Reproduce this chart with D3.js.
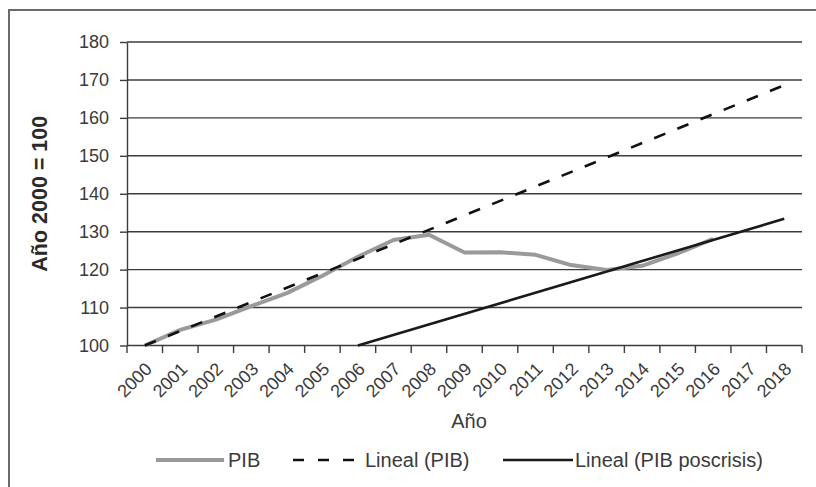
<!DOCTYPE html>
<html>
<head>
<meta charset="utf-8">
<script src="https://cdn.jsdelivr.net/npm/d3@7/dist/d3.min.js"></script>
<style>
  html, body { margin: 0; padding: 0; background: #fff; }
  svg { display: block; font-family: "Liberation Sans", Arial, sans-serif; }
</style>
</head>
<body>
<svg id="chart" width="816" height="487"></svg>
<script>
// Years on the category axis
const years = [2000, 2001, 2002, 2003, 2004, 2005, 2006, 2007, 2008, 2009,
               2010, 2011, 2012, 2013, 2014, 2015, 2016, 2017, 2018];
// GDP index (2000 = 100), observed through 2016
const pib = [100, 104.1, 106.8, 110.4, 113.8, 118.4, 123.4, 127.8, 129.2, 124.5,
             124.6, 123.9, 121.2, 119.9, 121.0, 124.3, 128.1, null, null];
// Linear trend over the whole series (endpoints)
const trendYears = [2000, 2018];
const trendPib = [100.0, 168.6];
// Linear trend of the post-crisis period (endpoints)
const postYears = [2006, 2018];
const postPib = [100.0, 133.4];
// Axis ticks
const yTicks = [100, 110, 120, 130, 140, 150, 160, 170, 180];
const legendLabels = ["PIB", "Lineal (PIB)", "Lineal (PIB poscrisis)"];

const svg = d3.select("#chart");
const plotLeft = 127, plotRight = 802, plotTop = 42, plotBottom = 345.5;

const x = d3.scaleBand().domain(years).range([plotLeft, plotRight]).padding(0);
const y = d3.scaleLinear().domain([100, 180]).range([plotBottom, plotTop]);
const cx = d => x(d) + x.bandwidth() / 2;

// outer frame
svg.append("rect")
  .attr("x", 9).attr("y", 10).attr("width", 900).attr("height", 600)
  .attr("fill", "none").attr("stroke", "#6b6b6b").attr("stroke-width", 2);

// horizontal gridlines
svg.append("g").selectAll("line").data(yTicks.slice(1)).join("line")
  .attr("x1", plotLeft).attr("x2", plotRight)
  .attr("y1", d => y(d)).attr("y2", d => y(d))
  .attr("stroke", "#3c3c3c").attr("stroke-width", 1.4);

// y axis
const yAxis = svg.append("g")
  .attr("transform", `translate(${plotLeft},0)`)
  .call(d3.axisLeft(y).tickValues(yTicks).tickSize(7).tickPadding(11).tickSizeOuter(0));
yAxis.select(".domain").attr("stroke", "#3c3c3c").attr("stroke-width", 1.4);
yAxis.selectAll(".tick line").attr("stroke", "#3c3c3c").attr("stroke-width", 1.4);
yAxis.selectAll(".tick text")
  .attr("font-size", 18).attr("fill", "#3a3a3a")
  .attr("font-family", "Liberation Sans, Arial, sans-serif");

// x axis: ticks on category boundaries
const xg = svg.append("g");
xg.append("line")
  .attr("x1", plotLeft).attr("x2", plotRight).attr("y1", plotBottom).attr("y2", plotBottom)
  .attr("stroke", "#3c3c3c").attr("stroke-width", 1.4);
const bounds = years.map(d => x(d)).concat([plotRight]);
xg.selectAll("line.tk").data(bounds).join("line").attr("class", "tk")
  .attr("x1", d => d).attr("x2", d => d)
  .attr("y1", plotBottom).attr("y2", plotBottom + 7.5)
  .attr("stroke", "#3c3c3c").attr("stroke-width", 1.4);
xg.selectAll("text").data(years).join("text")
  .attr("transform", d => `translate(${cx(d) + 4},${plotBottom + 20.5}) rotate(-45)`)
  .attr("text-anchor", "end").attr("dominant-baseline", "central")
  .attr("font-size", 18).attr("fill", "#3a3a3a")
  .text(d => d);

// axis titles
svg.append("text")
  .attr("x", 469).attr("y", 428)
  .attr("text-anchor", "middle").attr("font-size", 20).attr("fill", "#3a3a3a")
  .text("Año");
svg.append("text")
  .attr("transform", `translate(47,${(plotTop + plotBottom) / 2}) rotate(-90)`)
  .attr("text-anchor", "middle").attr("font-size", 21.5).attr("font-weight", "bold")
  .attr("fill", "#2a2a2a")
  .text("Año 2000 = 100");

// series
const line = d3.line().defined(d => d[1] != null).x(d => cx(d[0])).y(d => y(d[1]));

svg.append("path")
  .datum(years.map((yr, i) => [yr, pib[i]]))
  .attr("d", line).attr("fill", "none")
  .attr("stroke", "#9a9a9a").attr("stroke-width", 4).attr("stroke-linejoin", "round");

svg.append("path")
  .datum(trendYears.map((yr, i) => [yr, trendPib[i]]))
  .attr("d", line).attr("fill", "none")
  .attr("stroke", "#111").attr("stroke-width", 2.6).attr("stroke-dasharray", "12,13");

svg.append("path")
  .datum(postYears.map((yr, i) => [yr, postPib[i]]))
  .attr("d", line).attr("fill", "none")
  .attr("stroke", "#1a1a1a").attr("stroke-width", 2.6);

// legend
const ly = 460;
const legend = svg.append("g");
legend.append("line").attr("x1", 156).attr("x2", 224).attr("y1", ly).attr("y2", ly)
  .attr("stroke", "#9a9a9a").attr("stroke-width", 4);
legend.append("line").attr("x1", 293).attr("x2", 357).attr("y1", ly).attr("y2", ly)
  .attr("stroke", "#111").attr("stroke-width", 2.6).attr("stroke-dasharray", "11,14");
legend.append("line").attr("x1", 503).attr("x2", 573).attr("y1", ly).attr("y2", ly)
  .attr("stroke", "#1a1a1a").attr("stroke-width", 2.6);
const lx = [228, 365, 575];
legend.selectAll("text").data(legendLabels).join("text")
  .attr("x", (d, i) => lx[i]).attr("y", ly + 7)
  .attr("font-size", 20).attr("fill", "#3a3a3a")
  .text(d => d);
</script>
</body>
</html>
